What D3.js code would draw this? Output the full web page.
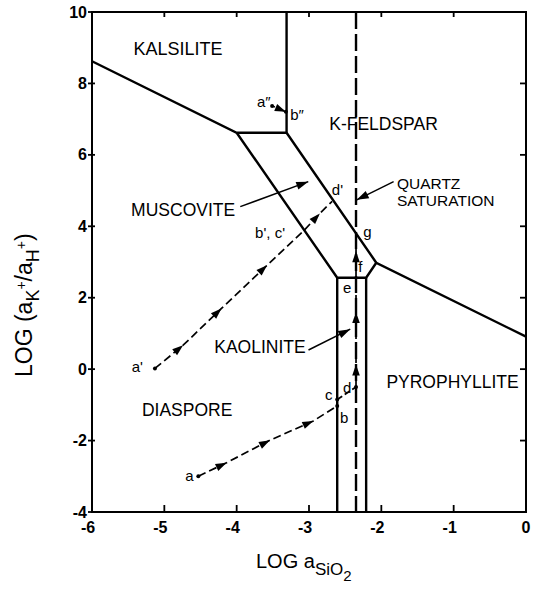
<!DOCTYPE html>
<html>
<head>
<meta charset="utf-8">
<script src="https://cdn.jsdelivr.net/npm/d3@7"></script>
<style>
  html, body { margin: 0; padding: 0; background: #fff; }
  svg text { font-family: "Liberation Sans", Arial, Helvetica, sans-serif; fill: #000; }
</style>
</head>
<body>
<svg id="chart" width="540" height="591"></svg>
<script>
// Axis ticks
const xTicks = [-6, -5, -4, -3, -2, -1, 0];
const yTicks = [-4, -2, 0, 2, 4, 6, 8, 10];

// Phase-field boundaries as [log aSiO2, log(aK+/aH+)] vertices
const kalsiliteBoundary = [[-6, 8.62], [-4.0, 6.62], [-3.31, 6.62], [-3.31, 10]];
const feldsparBoundary = [[-3.31, 6.62], [-2.07, 2.98], [0, 0.91]];
const muscoviteLowerBoundary = [[-4.0, 6.62], [-2.61, 2.56], [-2.21, 2.56], [-2.07, 2.98]];
const kaoliniteLeftBoundary = [[-2.61, 2.56], [-2.61, -4]];
const kaoliniteRightBoundary = [[-2.21, 2.56], [-2.21, -4]];
const quartzSaturation = -2.35;

// Reaction paths; arrowheads sit on the listed vertex indices
const pathA = [[-4.53, -3.0], [-4.14, -2.62], [-3.54, -1.99], [-2.94, -1.45], [-2.61, -1.03]];
const pathAArrows = [1, 2, 3];
const pathBC = [[-2.61, -1.03], [-2.61, -0.85]];
const pathCD = [[-2.61, -0.85], [-2.35, -0.5]];
const pathDG = [[-2.35, -0.5], [-2.35, 0.13], [-2.35, 1.6], [-2.35, 3.3], [-2.35, 3.8]];
const pathDGArrows = [1, 2, 3];
const pathAPrime = [[-5.13, 0.02], [-4.74, 0.67], [-4.21, 1.70], [-3.58, 2.91], [-3.07, 3.88], [-2.85, 4.36], [-2.68, 4.70]];
const pathAPrimeArrows = [1, 2, 3, 5];
const pathADoublePrime = [[-3.51, 7.37], [-3.32, 7.21]];
const pathADoublePrimeArrows = [1];
const pathDots = [[-4.53, -3.0], [-2.61, -1.03], [-2.61, -0.85], [-2.35, -0.5], [-5.13, 0.02], [-3.51, 7.37], [-3.32, 7.21]];

// Field names and point letters: [text, x, y, anchor, size]
const fieldLabels = [
  ["KALSILITE", -4.81, 8.99, "middle", 18],
  ["K-FELDSPAR", -1.97, 6.86, "middle", 17.5],
  ["MUSCOVITE", -4.74, 4.46, "middle", 17.5],
  ["QUARTZ", -1.785, 5.21, "start", 15.5],
  ["SATURATION", -1.785, 4.73, "start", 15.5],
  ["KAOLINITE", -4.31, 0.63, "start", 17.5],
  ["DIASPORE", -5.31, -1.14, "start", 17.5],
  ["PYROPHYLLITE", -1.93, -0.35, "start", 17.5]
];
const pointLabels = [
  ["a", -4.71, -2.99], ["b", -2.57, -1.37], ["c", -2.78, -0.72], ["d", -2.53, -0.53],
  ["e", -2.53, 2.27], ["f", -2.32, 2.87], ["g", -2.25, 3.84],
  ["a'", -5.45, 0.07], ["b', c'", -3.745, 3.81], ["d'", -2.684, 5.02],
  ["a\u2033", -3.72, 7.49], ["b\u2033", -3.26, 7.12]
];
// Callout arrows from a label to its field: [x1, y1, x2, y2]
const callouts = [
  [-3.95, 4.55, -3.01, 5.25],
  [-1.83, 5.25, -2.34, 4.74],
  [-3.007, 0.536, -2.43, 1.12]
];

const svg = d3.select("#chart");
const plotLeft = 92, plotRight = 526, plotTop = 12, plotBottom = 512;
const x = d3.scaleLinear().domain([-6, 0]).range([plotLeft, plotRight]);
const y = d3.scaleLinear().domain([-4, 10]).range([plotBottom, plotTop]);
const line = d3.line().x(d => x(d[0])).y(d => y(d[1]));

// Frame
svg.append("rect").attr("x", plotLeft).attr("y", plotTop)
  .attr("width", plotRight - plotLeft).attr("height", plotBottom - plotTop)
  .attr("fill", "none").attr("stroke", "#000").attr("stroke-width", 2);

// Ticks: bottom/top/right inward, left straddling
const tickG = svg.append("g").attr("stroke", "#000").attr("stroke-width", 1.8);
xTicks.forEach(t => {
  tickG.append("line").attr("x1", x(t)).attr("x2", x(t)).attr("y1", plotBottom).attr("y2", plotBottom - 7);
  tickG.append("line").attr("x1", x(t)).attr("x2", x(t)).attr("y1", plotTop).attr("y2", plotTop + 5);
});
yTicks.forEach(t => {
  tickG.append("line").attr("x1", plotLeft - 4).attr("x2", plotLeft + 3).attr("y1", y(t)).attr("y2", y(t));
  tickG.append("line").attr("x1", plotRight).attr("x2", plotRight - 6).attr("y1", y(t)).attr("y2", y(t));
});

// Tick labels (digit centred under tick, minus hangs left)
const tickFont = { size: 16, weight: "bold" };
xTicks.forEach(t => {
  svg.append("text").attr("x", x(t) + (t < 0 ? -4 : 0)).attr("y", plotBottom + 21)
    .attr("text-anchor", "middle").attr("font-size", tickFont.size).attr("font-weight", tickFont.weight)
    .text(t < 0 ? "-" + Math.abs(t) : String(t));
});
yTicks.forEach(t => {
  svg.append("text").attr("x", plotLeft - 5).attr("y", y(t)).attr("dy", "0.35em")
    .attr("text-anchor", "end").attr("font-size", tickFont.size).attr("font-weight", tickFont.weight)
    .text(t < 0 ? "-" + Math.abs(t) : String(t));
});

// Quartz saturation line
svg.append("line").attr("x1", x(quartzSaturation)).attr("x2", x(quartzSaturation))
  .attr("y1", y(10)).attr("y2", y(-4))
  .attr("stroke", "#000").attr("stroke-width", 2.4).attr("stroke-dasharray", "17,5");

// Phase boundaries
[kalsiliteBoundary, feldsparBoundary, muscoviteLowerBoundary, kaoliniteLeftBoundary, kaoliniteRightBoundary]
  .forEach(b => svg.append("path").attr("d", line(b)).attr("fill", "none")
    .attr("stroke", "#000").attr("stroke-width", 2.4).attr("stroke-linejoin", "miter"));

// Arrowhead at pixel tip, pointing along angle
function arrowHead(g, px, py, ang, len, half) {
  const c = Math.cos(ang), s = Math.sin(ang);
  const bx = px - c * len, by = py - s * len;
  g.append("path")
    .attr("d", `M${px},${py}L${bx - s * half},${by + c * half}L${bx + s * half},${by - c * half}Z`)
    .attr("fill", "#000").attr("stroke", "none");
}

// Reaction paths
const pathG = svg.append("g");
function reactionPath(pts, arrowIdx, dash) {
  pathG.append("path").attr("d", line(pts)).attr("fill", "none")
    .attr("stroke", "#000").attr("stroke-width", 1.7).attr("stroke-dasharray", dash);
  (arrowIdx || []).forEach(i => {
    const p0 = pts[i - 1], p1 = pts[i];
    const ang = Math.atan2(y(p1[1]) - y(p0[1]), x(p1[0]) - x(p0[0]));
    arrowHead(pathG, x(p1[0]), y(p1[1]), ang, 11, 3.8);
  });
}
reactionPath(pathA, pathAArrows, "8,4");
reactionPath(pathBC, [], null);
reactionPath(pathCD, [], "6,3");
reactionPath(pathDG, pathDGArrows, "8,4");
reactionPath(pathAPrime, pathAPrimeArrows, "8,4");
reactionPath(pathADoublePrime, pathADoublePrimeArrows, "3,2");
pathDots.forEach(p => pathG.append("circle").attr("cx", x(p[0])).attr("cy", y(p[1])).attr("r", 2).attr("fill", "#000"));

// Callout arrows
callouts.forEach(c => {
  svg.append("line").attr("x1", x(c[0])).attr("y1", y(c[1])).attr("x2", x(c[2])).attr("y2", y(c[3]))
    .attr("stroke", "#000").attr("stroke-width", 1.5);
  const ang = Math.atan2(y(c[3]) - y(c[1]), x(c[2]) - x(c[0]));
  arrowHead(svg, x(c[2]), y(c[3]), ang, 12, 4);
});

// Field labels
fieldLabels.forEach(l => {
  svg.append("text").attr("x", x(l[1])).attr("y", y(l[2])).attr("dy", "0.36em")
    .attr("text-anchor", l[3]).attr("font-size", l[4]).text(l[0]);
});
pointLabels.forEach(l => {
  svg.append("text").attr("x", x(l[1])).attr("y", y(l[2])).attr("dy", "0.36em")
    .attr("font-size", 15).text(l[0]);
});

// X axis title: LOG a_SiO2
const xt = svg.append("text").attr("x", 256).attr("y", 568).attr("font-size", 20);
xt.append("tspan").text("LOG a");
xt.append("tspan").attr("dy", 7).attr("font-size", 17).text("SiO");
xt.append("tspan").attr("dy", 6).attr("font-size", 15).text("2");

// Y axis title: LOG (a_K+/a_H+)
const yt = svg.append("text").attr("transform", "translate(32,377) rotate(-90)").attr("font-size", 23);
yt.append("tspan").text("LOG (a");
yt.append("tspan").attr("dy", 7).attr("font-size", 18).text("K");
yt.append("tspan").attr("dy", -13).attr("font-size", 14).text("+");
yt.append("tspan").attr("dy", 6).text("/a");
yt.append("tspan").attr("dy", 7).attr("font-size", 18).text("H");
yt.append("tspan").attr("dy", -13).attr("font-size", 14).text("+");
yt.append("tspan").attr("dy", 6).text(")");
</script>
</body>
</html>
